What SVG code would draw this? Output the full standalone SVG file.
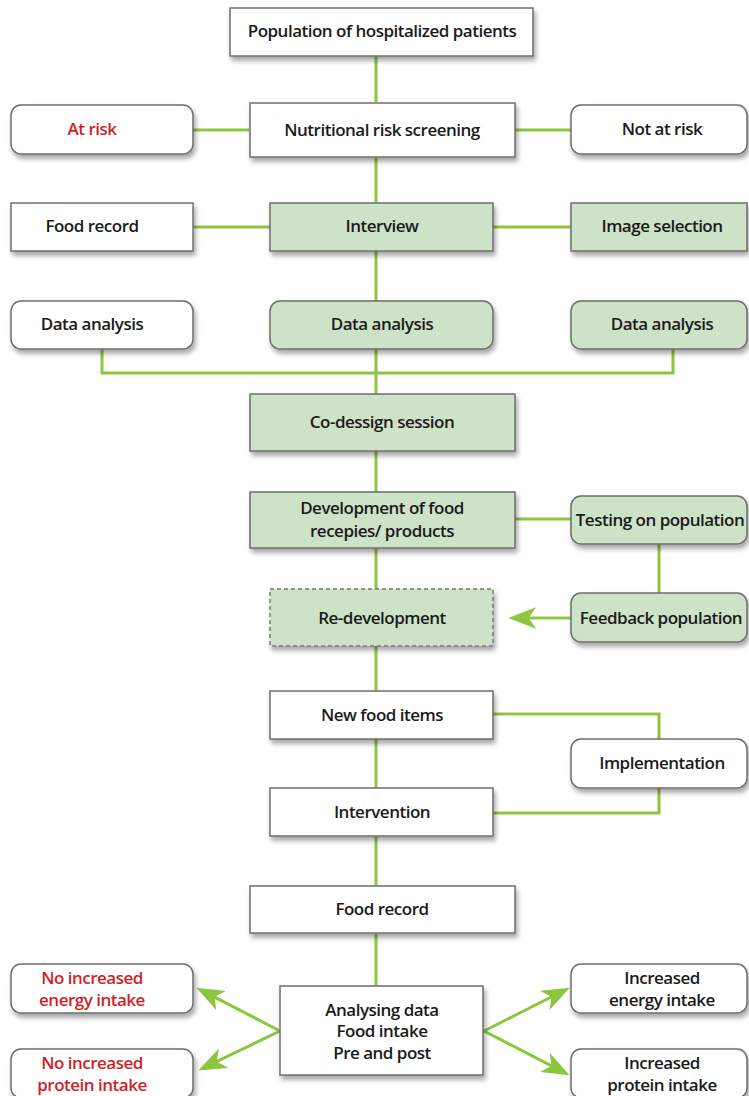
<svg xmlns="http://www.w3.org/2000/svg" width="749" height="1096" viewBox="0 0 749 1096">
<style>
text{font-family:"Open Sans","Liberation Sans",sans-serif;font-weight:600;font-size:17px;letter-spacing:-0.5px;fill:#1a1a1a;text-anchor:middle}
.red{fill:#d01f28}
.box{fill:#fff;stroke:#6e6e6e;stroke-width:1.5;filter:url(#sh)}
.g{fill:#cde2c6}
.dash{stroke-dasharray:4 3;stroke:#777}
.ln{fill:none;stroke:#8cc63f;stroke-width:3}
</style>
<defs>
<filter id="sh" x="-10%" y="-20%" width="125%" height="160%">
<feDropShadow dx="2" dy="4" stdDeviation="2.5" flood-color="#000" flood-opacity="0.35"/>
</filter>
<marker id="ah" markerUnits="userSpaceOnUse" markerWidth="28" markerHeight="22" viewBox="0 0 26 20" refX="16" refY="10" orient="auto">
<path d="M0,0 L26,10 L0,20 L7,10 z" fill="#8cc63f"/>
</marker>
</defs>
<g id="connectors">
<path class="ln" d="M376,55 V102"/>
<path class="ln" d="M193,130 H249 M515,130 H571"/>
<path class="ln" d="M376,157 V203"/>
<path class="ln" d="M193,227 H270 M493,227 H571"/>
<path class="ln" d="M376,251 V301"/>
<path class="ln" d="M376,349 V394"/>
<path class="ln" d="M102,349 V373 H673 V349"/>
<path class="ln" d="M376,451 V492"/>
<path class="ln" d="M515,519 H571"/>
<path class="ln" d="M659,544 V593"/>
<path class="ln" d="M376,548 V589"/>
<path class="ln" d="M571,618 H519" marker-end="url(#ah)"/>
<path class="ln" d="M376,646 V691"/>
<path class="ln" d="M376,739 V788"/>
<path class="ln" d="M493,714 H659 V739"/>
<path class="ln" d="M659,788 V813 H493"/>
<path class="ln" d="M376,836 V886"/>
<path class="ln" d="M376,933 V986"/>
<path class="ln" d="M280,1031 L205.9,992.6" marker-end="url(#ah)"/>
<path class="ln" d="M280,1031 L208,1065.7" marker-end="url(#ah)"/>
<path class="ln" d="M484,1031 L560.1,992.5" marker-end="url(#ah)"/>
<path class="ln" d="M484,1031 L560.1,1070.4" marker-end="url(#ah)"/>
</g>
<g id="population"><rect class="box" x="230" y="8" width="303" height="48"/><text x="382" y="37">Population of hospitalized patients</text></g>
<g id="screening"><rect class="box" x="250" y="103" width="265" height="54"/><text x="382" y="136">Nutritional risk screening</text></g>
<g id="at-risk"><rect class="box" x="11" y="105" width="182" height="49" rx="10"/><text class="red" x="92" y="135">At risk</text></g>
<g id="not-at-risk"><rect class="box" x="571" y="105" width="176" height="49" rx="10"/><text x="662" y="135">Not at risk</text></g>
<g id="food-record-1"><rect class="box" x="11" y="203" width="182" height="48"/><text x="92" y="232">Food record</text></g>
<g id="interview"><rect class="box g" x="270" y="203" width="223" height="48"/><text x="382" y="232">Interview</text></g>
<g id="image-selection"><rect class="box g" x="571" y="203" width="176" height="48"/><text x="662" y="232">Image selection</text></g>
<g id="data-analysis-1"><rect class="box" x="11" y="301" width="182" height="48" rx="10"/><text x="92" y="330">Data analysis</text></g>
<g id="data-analysis-2"><rect class="box g" x="270" y="301" width="223" height="48" rx="10"/><text x="382" y="330">Data analysis</text></g>
<g id="data-analysis-3"><rect class="box g" x="571" y="301" width="176" height="48" rx="10"/><text x="662" y="330">Data analysis</text></g>
<g id="co-design"><rect class="box g" x="250" y="394" width="265" height="57"/><text x="382" y="428">Co-dessign session</text></g>
<g id="development"><rect class="box g" x="250" y="492" width="265" height="56"/><text x="382" y="514">Development of food</text><text x="382" y="537">recepies/ products</text></g>
<g id="testing"><rect class="box g" x="571" y="496" width="176" height="48" rx="10"/><text x="660" y="526">Testing on population</text></g>
<g id="redevelopment"><rect class="box g dash" x="270" y="589" width="223" height="57"/><text x="382" y="624">Re-development</text></g>
<g id="feedback"><rect class="box g" x="571" y="593" width="176" height="49" rx="10"/><text x="661" y="624">Feedback population</text></g>
<g id="new-food-items"><rect class="box" x="270" y="691" width="223" height="48"/><text x="382" y="721">New food items</text></g>
<g id="implementation"><rect class="box" x="571" y="739" width="176" height="49" rx="10"/><text x="662" y="769">Implementation</text></g>
<g id="intervention"><rect class="box" x="270" y="788" width="223" height="48"/><text x="382" y="818">Intervention</text></g>
<g id="food-record-2"><rect class="box" x="250" y="886" width="265" height="47"/><text x="382" y="915">Food record</text></g>
<g id="analysing"><rect class="box" x="280" y="986" width="203" height="89"/><text x="382" y="1016">Analysing data</text><text x="382" y="1037">Food intake</text><text x="382" y="1059">Pre and post</text></g>
<g id="no-energy"><rect class="box" x="11" y="964" width="182" height="49" rx="10"/><text class="red" x="92" y="984">No increased</text><text class="red" x="92" y="1006">energy intake</text></g>
<g id="no-protein"><rect class="box" x="11" y="1049" width="182" height="49" rx="10"/><text class="red" x="92" y="1069">No increased</text><text class="red" x="92" y="1091">protein intake</text></g>
<g id="inc-energy"><rect class="box" x="571" y="964" width="176" height="49" rx="10"/><text x="662" y="984">Increased</text><text x="662" y="1006">energy intake</text></g>
<g id="inc-protein"><rect class="box" x="571" y="1049" width="176" height="49" rx="10"/><text x="662" y="1069">Increased</text><text x="662" y="1091">protein intake</text></g>
</svg>
